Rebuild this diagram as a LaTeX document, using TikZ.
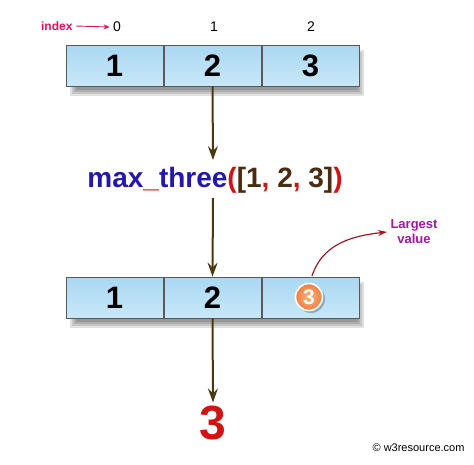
\documentclass[tikz,border=0pt]{standalone}
\usepackage{fontspec}
\setmainfont{Liberation Sans}
\usetikzlibrary{arrows.meta,shadings}
\definecolor{arr}{HTML}{4A3810}
\definecolor{cellA}{HTML}{C9E7F8}
\definecolor{cellB}{HTML}{A9D8F2}
\definecolor{fnblue}{HTML}{2318A8}
\definecolor{fnred}{HTML}{D01414}
\definecolor{fnbrown}{HTML}{4A2C10}
\definecolor{idxred}{HTML}{E01060}
\definecolor{purp}{HTML}{A0189C}
\definecolor{orng}{HTML}{F0803E}
\definecolor{orngL}{HTML}{F8B080}
\definecolor{curv}{HTML}{A01828}
\tikzset{
  cell/.style={draw=black!65, line width=0.8pt, minimum width=97pt, minimum height=41pt,
    inner sep=0pt, top color=cellB, bottom color=cellA, font=\fontsize{31}{31}\selectfont\bfseries},
  flow/.style={draw=arr, line width=2pt, -{Stealth[length=14pt,width=10pt,inset=5pt]}},
  idx/.style={font=\fontsize{14}{14}\selectfont},
  softshadow/.style={fill=black, opacity=0.12},
}
\begin{document}
\begin{tikzpicture}[x=1pt,y=-1pt]
\useasboundingbox (0,0) rectangle (474,464);
% shadows
\foreach \d in {0,2,4,6}{
  \fill[softshadow] (70+\d,50+\d) rectangle (364-\d,96-\d);
  \fill[softshadow] (70+\d,282+\d) rectangle (364-\d,328-\d);
}
% top array
\node[cell] (a0) at (114.5,65.5) {1};
\node[cell] (a1) at (212.5,65.5) {2};
\node[cell] (a2) at (310.5,65.5) {3};
\node[idx] (i0) at (117,27) {0};
\node[idx] (i1) at (214,27) {1};
\node[idx] (i2) at (311,27) {2};
\node[font=\fontsize{12}{12}\selectfont\bfseries, text=idxred, anchor=east] (ix) at (76,26) {index};
\draw[idxred, line width=0.9pt, -{Stealth[length=6pt,width=5pt]}] (ix.east) -- (i0.west);
% function call
\node[font=\fontsize{28}{28}\selectfont\bfseries] (fn) at (215,180)
  {\textcolor{fnblue}{max}\textcolor{fnred}{\_}\textcolor{fnblue}{three}\textcolor{fnred}{(}\textcolor{fnbrown}{[1}\textcolor{fnred}{,} \textcolor{fnbrown}{2}\textcolor{fnred}{,} \textcolor{fnbrown}{3]}\textcolor{fnred}{)}};
\draw[flow] (a1.south) -- (213,160);
% bottom array
\node[cell] (b0) at (114.5,297.5) {1};
\node[cell] (b1) at (212.5,297.5) {2};
\node[cell] (b2) at (310.5,297.5) {};
\draw[flow] (213,198) -- (b1.north);
\fill[black, opacity=0.25] (311,299) circle (14pt);
\node[circle, draw=white, line width=1.6pt, inner color=orngL, outer color=orng, minimum size=27pt, inner sep=0pt,
  text=white, font=\fontsize{21}{21}\selectfont\bfseries] (c3) at (309,297) {3};
\node[font=\fontsize{13}{15}\selectfont\bfseries, text=purp, align=center] (lv) at (414,232) {Largest\\value};
\draw[curv, line width=1.2pt, -{Stealth[length=9pt,width=6pt]}] (312,276) .. controls (322,245) and (350,236) .. (lv.west);
% result
\node[font=\fontsize{48}{48}\selectfont\bfseries, text=fnred] (res) at (213,423) {3};
\draw[flow] (b1.south) -- (res.north);
\node[font=\fontsize{11}{11}\selectfont, anchor=east] (cp) at (468,448) {\textcopyright\ w3resource.com};
\end{tikzpicture}
\end{document}
